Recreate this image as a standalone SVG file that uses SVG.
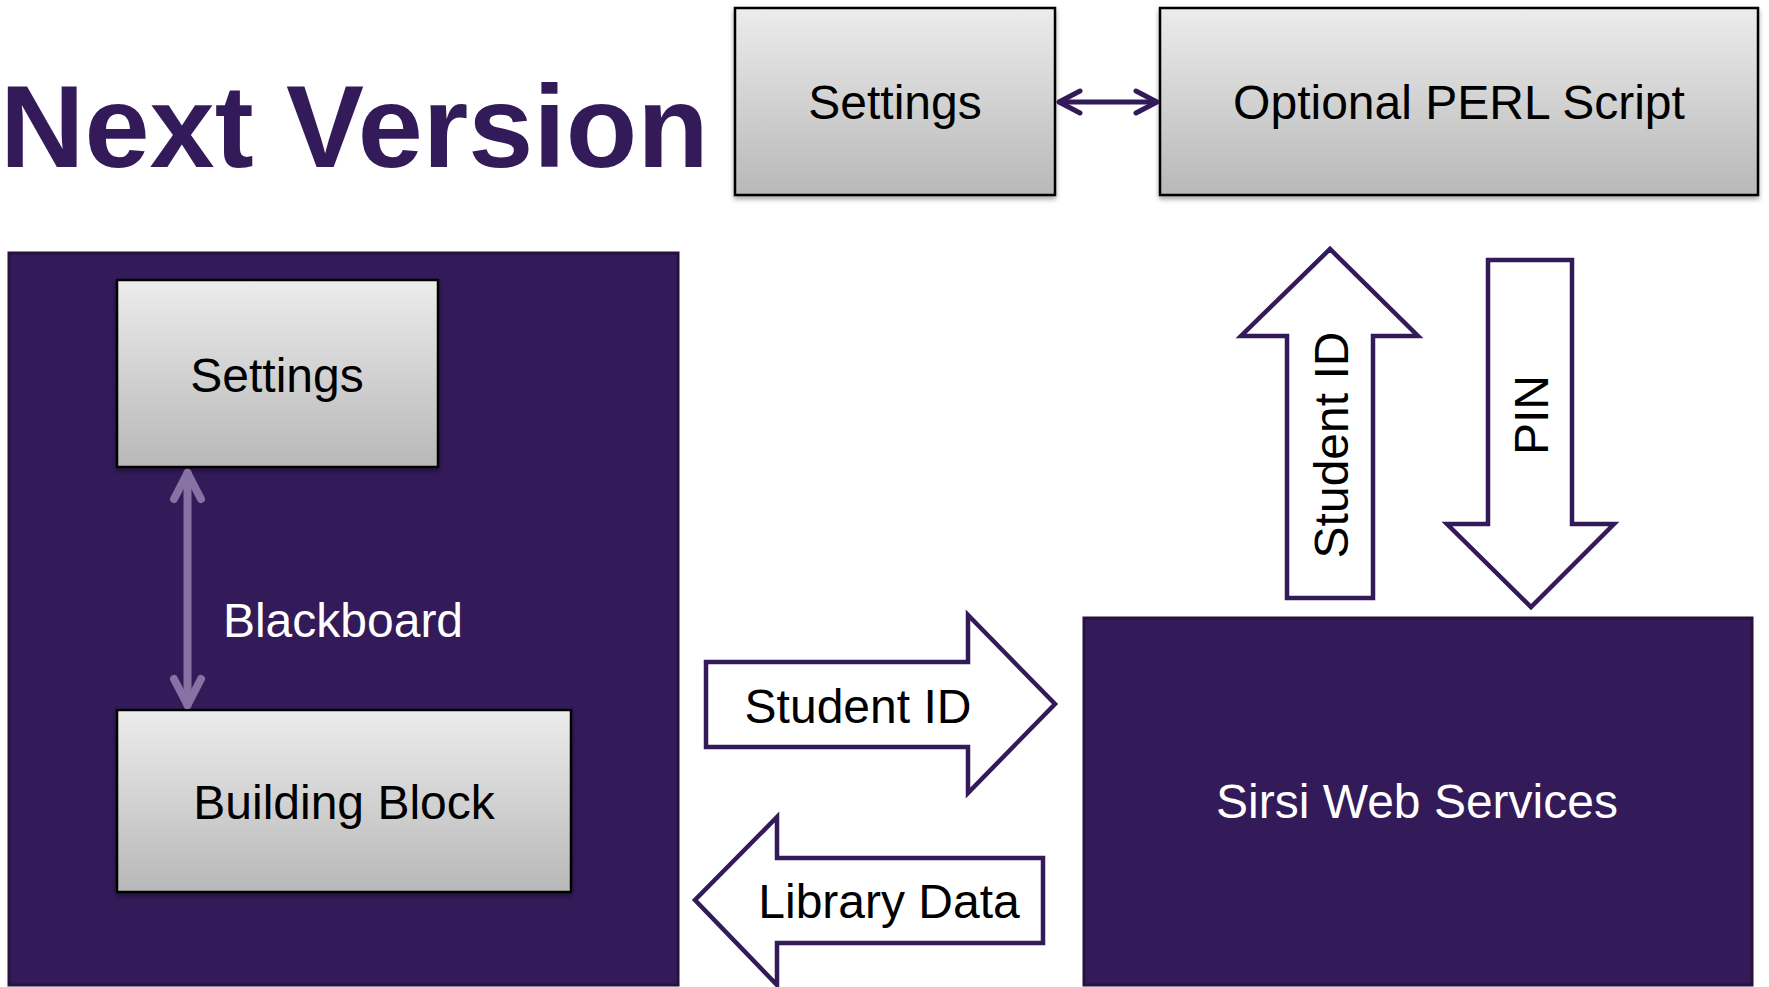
<svg xmlns="http://www.w3.org/2000/svg" width="1769" height="987" viewBox="0 0 1769 987">
<style>
.lbl{font-family:"Liberation Sans",Arial,sans-serif;font-size:48px;text-anchor:middle}
.dark{fill:#000}
.white{fill:#fff}
.grey{fill:url(#g);stroke:#000;stroke-width:2.5}
.panel{fill:#331a59;stroke:#27123f;stroke-width:3}
.hollow{fill:#fff;stroke:#331a59;stroke-width:4.5;stroke-linejoin:miter}
</style>
<defs>
<linearGradient id="g" x1="0" y1="0" x2="0" y2="1">
<stop offset="0" stop-color="#ececec"/>
<stop offset="1" stop-color="#b8b8b8"/>
</linearGradient>
<filter id="sh" x="-5%" y="-5%" width="110%" height="115%">
<feGaussianBlur in="SourceAlpha" stdDeviation="2.5"/>
<feOffset dx="0" dy="3" result="b"/>
<feComponentTransfer><feFuncA type="linear" slope="0.35"/></feComponentTransfer>
<feMerge><feMergeNode/><feMergeNode in="SourceGraphic"/></feMerge>
</filter>
</defs>
<rect width="1769" height="987" fill="#fff"/>

<g id="title">
<text x="0" y="167" font-family="'Liberation Sans',Arial,sans-serif" font-weight="bold" font-size="117" fill="#331a59">Next Version</text>
</g>

<g id="settings-top">
<rect class="grey" x="735" y="8" width="320" height="187" filter="url(#sh)"/>
<text class="lbl dark" x="895" y="119">Settings</text>
</g>

<g id="perl">
<rect class="grey" x="1160" y="8" width="598" height="187" filter="url(#sh)"/>
<text class="lbl dark" x="1459" y="119">Optional PERL Script</text>
</g>

<g id="blackboard-panel">
<rect class="panel" x="9" y="253" width="669" height="732"/>
<text class="lbl white" x="343" y="637">Blackboard</text>
</g>

<g id="settings-inner">
<rect class="grey" x="117" y="280" width="321" height="187" filter="url(#sh)"/>
<text class="lbl dark" x="277" y="392">Settings</text>
</g>

<g id="building-block">
<rect class="grey" x="117" y="710" width="454" height="182" filter="url(#sh)"/>
<text class="lbl dark" x="344" y="819">Building Block</text>
</g>

<g id="sirsi">
<rect class="panel" x="1084" y="618" width="668" height="367"/>
<text class="lbl white" x="1417" y="818">Sirsi Web Services</text>
</g>

<g id="connectors">
<g fill="none" stroke="#331a59" stroke-width="5" stroke-linecap="round" stroke-linejoin="round">
<line x1="1060" y1="102" x2="1156" y2="102"/>
<polyline points="1080,91 1059,102 1080,113"/>
<polyline points="1136,91 1157,102 1136,113"/>
</g>
<g fill="none" stroke="#8673a3" stroke-width="8" stroke-linecap="round" stroke-linejoin="round">
<line x1="187.5" y1="473" x2="187.5" y2="705"/>
<polyline points="174,499 187.5,473 201,499"/>
<polyline points="174,679 187.5,705 201,679"/>
</g>
<g id="arrow-student-right">
<polygon class="hollow" points="706,662 968,662 968,615 1055,704 968,793 968,747 706,747"/>
<text class="lbl dark" x="858" y="723">Student ID</text>
</g>
<g id="arrow-library-left">
<polygon class="hollow" points="1043,858 777,858 777,817 695,900 777,985 777,943 1043,943"/>
<text class="lbl dark" x="889" y="918">Library Data</text>
</g>
<g id="arrow-student-up">
<polygon class="hollow" points="1287,598 1287,336 1241,336 1330,249 1418,336 1373,336 1373,598"/>
<text class="lbl dark" transform="translate(1348,445) rotate(-90)">Student ID</text>
</g>
<g id="arrow-pin-down">
<polygon class="hollow" points="1488,260 1572,260 1572,524 1614,524 1531,607 1447,524 1488,524"/>
<text class="lbl dark" transform="translate(1548,415) rotate(-90)">PIN</text>
</g>
</g>
</svg>
